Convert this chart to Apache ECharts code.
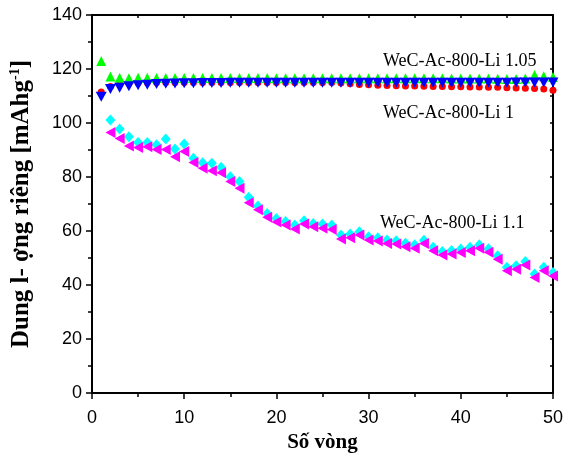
<!DOCTYPE html>
<html>
<head>
<meta charset="utf-8">
<script src="https://cdn.jsdelivr.net/npm/echarts@6/dist/echarts.min.js"></script>
<style>html,body{margin:0;padding:0;background:#fff}#c{width:566px;height:459px}</style>
</head>
<body>
<div id="c"></div>
<script>
const cycles = [1,2,3,4,5,6,7,8,9,10,11,12,13,14,15,16,17,18,19,20,21,22,23,24,25,26,27,28,29,30,31,32,33,34,35,36,37,38,39,40,41,42,43,44,45,46,47,48,49,50];
const xTicks = [0,10,20,30,40,50];
const yTicks = [0,20,40,60,80,100,120,140];
const seriesNames = ['WeC-Ac-800-Li 1','WeC-Ac-800-Li 1.05','WeC-Ac-800-Li 1.1'];
const li1Red = [111.5,113.5,114.4,114.7,114.9,115,115,115,115,115,115,115,115,115,115,115,115,115,115,115,115,115,115,115,115,115,114.8,114.5,114.3,114.2,114,113.9,113.8,113.7,113.7,113.6,113.5,113.5,113.4,113.4,113.3,113.3,113.2,113.2,113.1,113,112.9,112.8,112.6,112.1];
const li1Blue = [109.7,112.6,113.1,113.6,114,114.2,114.4,114.5,114.6,114.7,114.7,114.8,114.8,114.8,114.9,114.9,114.9,114.9,114.9,114.9,114.9,114.9,114.9,114.9,114.9,114.9,114.9,114.9,114.9,114.9,114.9,114.9,114.9,114.9,114.9,114.9,114.9,114.9,114.9,114.9,114.9,114.9,114.9,114.9,114.9,115,115,115,115,115];
const li105Green = [123,117.2,116.8,116.6,116.8,116.8,116.7,116.7,116.7,116.7,116.7,116.7,116.7,116.7,116.7,116.7,116.7,116.7,116.7,116.6,116.6,116.6,116.6,116.6,116.6,116.6,116.6,116.6,116.6,116.6,116.6,116.6,116.6,116.6,116.6,116.6,116.6,116.6,116.5,116.5,116.5,116.5,116.5,116.4,116.3,116.3,116.5,117.8,117.3,117];
const li11Cyan = [null,101.1,97.8,94.9,92.8,92.8,91.9,94.1,90.4,92.2,86.9,85.3,85.1,83.6,80.1,78.3,72.5,69.3,66.5,64.6,63.5,62.2,63.8,62.8,62.6,62.2,58.5,58.9,59.7,57.9,57.5,56.7,56.4,55.5,54.9,56.6,54,52.4,52.8,53.3,54,54.9,53.4,50.8,46.6,47.1,48.7,44.1,46.6,44.6];
const li11Magenta = [null,96.5,94.3,91.5,90.9,91.2,90.2,90.2,87.5,89.4,85.4,83.2,82.3,81.6,78.3,75.8,70.5,67.9,65.1,63.3,62.2,60.7,62.6,61.6,61,60.6,57,57.5,58.5,56.7,56.3,55.4,55.2,54.2,53.6,55.4,52.7,51.1,51.5,52,52.7,53.6,52.1,49.5,45.3,45.8,47.4,42.8,45.3,43.3];

const pair = arr => cycles.map((c,i) => [c, arr[i]]);
const chart = echarts.init(document.getElementById('c'), null, {renderer:'canvas'});
const axisColor = '#000';
const option = {
  animation: false,
  backgroundColor: '#fff',
  grid: {left: 91, right: 13, top: 15, bottom: 66, containLabel: false},
  xAxis: [{
    type: 'value', min: xTicks[0], max: xTicks[xTicks.length-1], interval: 10,
    name: 'Số vòng', nameLocation: 'middle', nameGap: 38,
    nameTextStyle: {fontFamily: 'Liberation Serif', fontWeight: 'bold', fontSize: 21, color: '#000'},
    axisLine: {show: true, onZero: false, lineStyle: {color: axisColor, width: 2}},
    axisTick: {show: true, inside: false, length: 6, lineStyle: {color: axisColor, width: 1.5}},
    minorTick: {show: true, splitNumber: 2, length: 4, lineStyle: {color: axisColor, width: 1.5}},
    axisLabel: {fontFamily: 'Liberation Sans', fontSize: 18, color: '#000', margin: 16},
    splitLine: {show: false}
  },{
    type: 'value', position: 'top', min: 0, max: 50, interval: 5,
    axisLine: {show: true, onZero: false, lineStyle: {color: axisColor, width: 2}},
    axisTick: {show: true, inside: true, length: 3, lineStyle: {color: axisColor, width: 1.5}},
    axisLabel: {show: false}, splitLine: {show: false}
  }],
  yAxis: [{
    type: 'value', min: yTicks[0], max: yTicks[yTicks.length-1], interval: 20,
    name: '{a|Dung l- ợng riêng [mAhg}{s|-1}{a|]}', nameLocation: 'middle', nameGap: 57,
    nameTextStyle: {
      color: '#000',
      rich: {
        a: {fontFamily: 'Liberation Serif', fontWeight: 'bold', fontSize: 25, color: '#000', lineHeight: 27},
        s: {fontFamily: 'Liberation Serif', fontWeight: 'bold', fontSize: 14, color: '#000', verticalAlign: 'top', lineHeight: 27}
      }
    },
    axisLine: {show: true, onZero: false, lineStyle: {color: axisColor, width: 2}},
    axisTick: {show: true, inside: false, length: 6, lineStyle: {color: axisColor, width: 1.5}},
    minorTick: {show: true, splitNumber: 2, length: 4, lineStyle: {color: axisColor, width: 1.5}},
    axisLabel: {fontFamily: 'Liberation Sans', fontSize: 18, color: '#000', margin: 10},
    splitLine: {show: false}
  },{
    type: 'value', position: 'right', min: 0, max: 140, interval: 10,
    axisLine: {show: true, onZero: false, lineStyle: {color: axisColor, width: 2}},
    axisTick: {show: true, inside: true, length: 3, lineStyle: {color: axisColor, width: 1.5}},
    axisLabel: {show: false}, splitLine: {show: false}
  }],
  series: [
    {name: seriesNames[2] + ' a', type: 'scatter', data: pair(li11Cyan), symbol: 'diamond', symbolSize: [10,11], itemStyle: {color: '#00ffff', opacity: 1}, z: 2},
    {name: seriesNames[2] + ' b', type: 'scatter', data: pair(li11Magenta), symbol: 'triangle', symbolRotate: 90, symbolSize: [11,10], itemStyle: {color: '#ff00ff', opacity: 1}, z: 3},
    {name: seriesNames[0] + ' a', type: 'scatter', data: pair(li1Red), symbol: 'circle', symbolSize: 7, itemStyle: {color: '#ff0000', opacity: 1}, z: 4},
    {name: seriesNames[1], type: 'scatter', data: pair(li105Green), symbol: 'triangle', symbolSize: [10,10], itemStyle: {color: '#00ff00', opacity: 1}, z: 5},
    {name: seriesNames[0] + ' b', type: 'scatter', data: pair(li1Blue), symbol: 'triangle', symbolRotate: 180, symbolSize: [11,10], itemStyle: {color: '#0000ff', opacity: 1}, z: 6}
  ],
  graphic: [
    {type: 'text', x: 383, y: 52, z: 100, style: {text: seriesNames[1], font: '18px "Liberation Serif"', fill: '#000', verticalAlign: 'top'}},
    {type: 'text', x: 383, y: 104, z: 100, style: {text: seriesNames[0], font: '18px "Liberation Serif"', fill: '#000', verticalAlign: 'top'}},
    {type: 'text', x: 380, y: 214, z: 100, style: {text: seriesNames[2], font: '18px "Liberation Serif"', fill: '#000', verticalAlign: 'top'}}
  ]
};
chart.setOption(option);
</script>
</body>
</html>
